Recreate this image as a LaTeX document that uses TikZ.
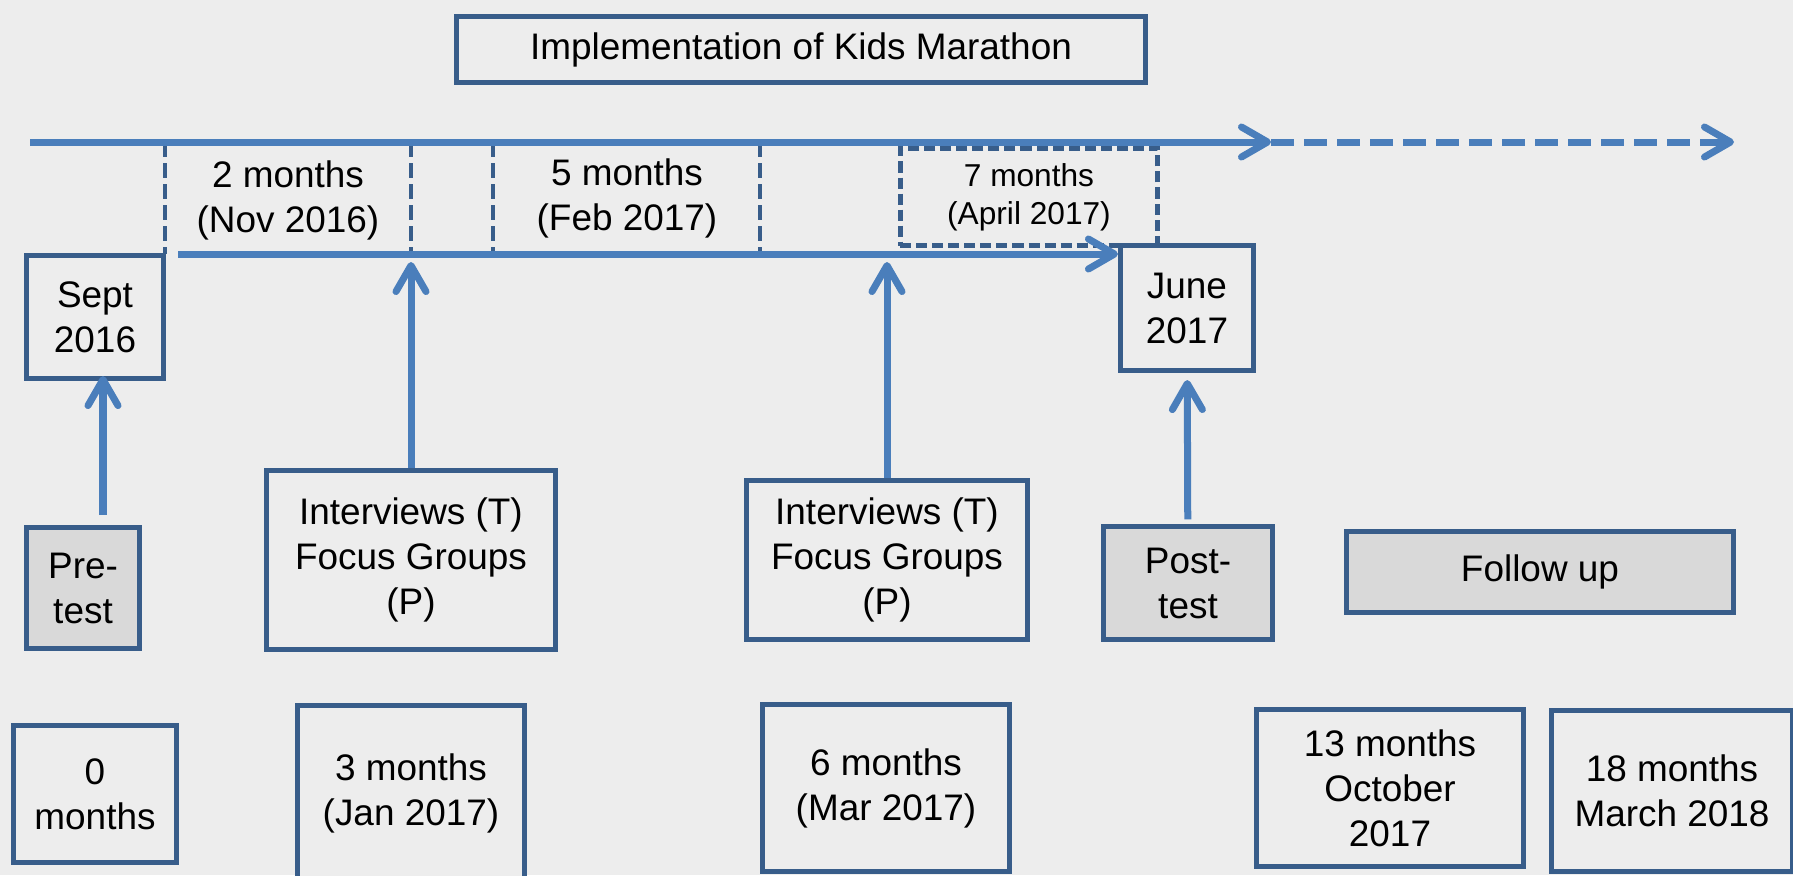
\documentclass[tikz,border=0pt]{standalone}
\usepackage{fontspec}
\setmainfont{Liberation Sans}
\usepackage{tikz}
\usetikzlibrary{arrows.meta, positioning, calc}
\definecolor{bgcolor}{RGB}{237,237,237}
\definecolor{linecolor}{RGB}{74,126,187}
\definecolor{boxcolor}{RGB}{56,93,138}
\definecolor{greycolor}{RGB}{217,217,217}

\begin{document}
\begin{tikzpicture}[
    x=0.01cm, y=-0.01cm,
    box/.style={draw=boxcolor, line width=0.05cm, fill=bgcolor, align=center, inner sep=0pt, font=\fontsize{10.5}{12.8}\selectfont},
    greybox/.style={box, fill=greycolor},
    label/.style={align=center, font=\fontsize{10.5}{12.8}\selectfont},
    arrow/.style={-{Straight Barb[length=0.26cm, width=0.3cm, round]}, line width=0.07cm, draw=linecolor},
    divider/.style={draw=boxcolor, line width=0.045cm, dash pattern=on 0.15cm off 0.06cm}
]
    \useasboundingbox (0,0) rectangle (1793,875);
    \clip (0,0) rectangle (1793,875);
    \fill[bgcolor] (0,0) rectangle (1793,875);

    % Timeline
    \coordinate (t0) at (30,142);
    \coordinate (t1) at (1271,142);
    \coordinate (t2) at (1734,142);
    \coordinate (b0) at (178,254);
    \foreach \x in {165,411,493,760}
        \draw[divider] (\x,142) -- (\x,254);

    % Top row
    \node[box, minimum width=6.89cm, minimum height=0.66cm] (title) at (801,49.5) {Implementation of Kids Marathon};
    \node[label] (nov) at (288,200) {2 months\\(Nov 2016)};
    \node[label] (feb) at (627,198) {5 months\\(Feb 2017)};
    \node[divider, align=center, minimum width=2.57cm, minimum height=0.97cm, inner sep=0pt, line width=0.05cm, dash pattern=on 0.11cm off 0.05cm, font=\fontsize{9}{10.8}\selectfont] (apr) at (1029,197) {7 months\\(April 2017)};
    \node[box, minimum width=1.37cm, minimum height=1.23cm] (sept) at (95,317) {Sept\\2016};
    \node[box, minimum width=1.33cm, minimum height=1.25cm] (june) at (1187,308) {June\\2017};

    % Middle row
    \node[greybox, minimum width=1.13cm, minimum height=1.2cm] (pre) at (83,588) {Pre-\\test};
    \node[box, minimum width=2.88cm, minimum height=1.78cm] (int1) at (411,560) {Interviews (T)\\Focus Groups\\(P)};
    \node[box, minimum width=2.8cm, minimum height=1.58cm] (int2) at (887,560) {Interviews (T)\\Focus Groups\\(P)};
    \node[greybox, minimum width=1.68cm, minimum height=1.12cm] (post) at (1188,583) {Post-\\test};
    \node[greybox, minimum width=3.86cm, minimum height=0.81cm] (follow) at (1540,572) {Follow up};

    % Bottom row
    \node[box, minimum width=1.63cm, minimum height=1.37cm] (m0) at (95,794) {0\\months};
    \node[box, minimum width=2.26cm, minimum height=1.75cm] (m3) at (411,793) {3 months\\(Jan 2017)};
    \node[box, minimum width=2.47cm, minimum height=1.66cm] (m6) at (886,788) {6 months\\(Mar 2017)};
    \node[box, minimum width=2.66cm, minimum height=1.57cm] (m13) at (1390,788) {13 months\\October\\2017};
    \node[box, minimum width=2.41cm, minimum height=1.61cm] (m18) at (1672,791) {18 months\\March 2018};

    % Arrows
    \draw[arrow] (t0) -- (t1);
    \draw[arrow, dash pattern=on 0.23cm off 0.1cm] (t1) -- (t2);
    \draw[arrow] (b0) -- (b0 -| june.west);
    \coordinate (pretop) at (103,515);
    \draw[arrow, shorten >=-0.05cm] (pretop) -- (pretop |- sept.south);
    \draw[arrow, shorten >=0.08cm] (int1) -- (int1 |- b0);
    \draw[arrow, shorten >=0.08cm] (int2) -- (int2 |- b0);
    \draw[arrow, shorten <=0.05cm, shorten >=0.07cm] (post) -- (june);
\end{tikzpicture}
\end{document}
